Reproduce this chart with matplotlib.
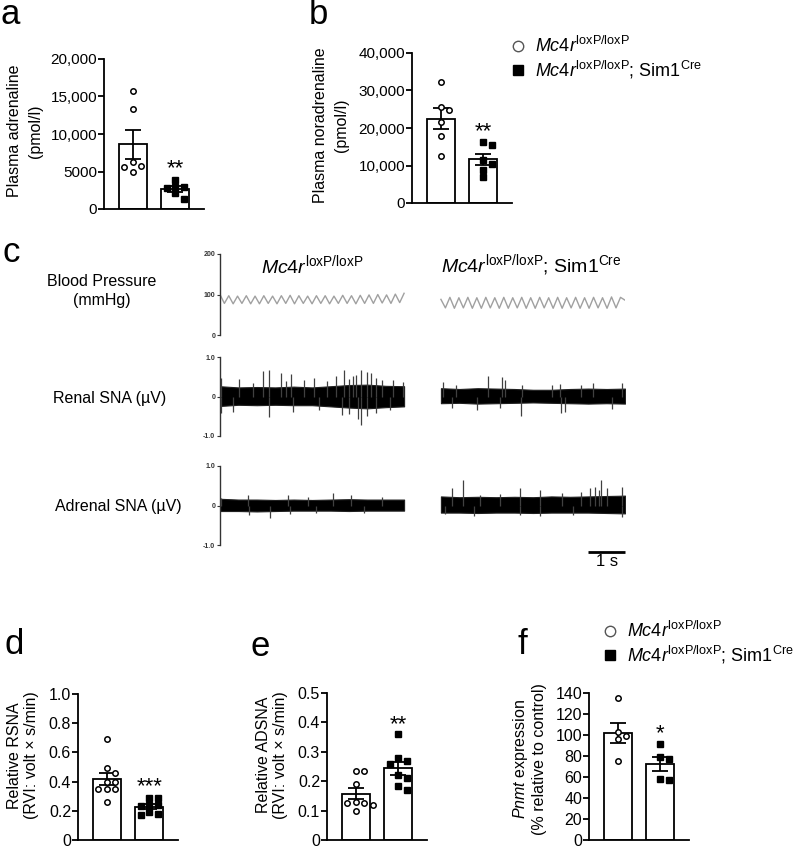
import numpy as np
import matplotlib
matplotlib.use('Agg')
import matplotlib.pyplot as plt

plt.rcParams['font.family'] = ['Liberation Sans', 'DejaVu Sans']
plt.rcParams['mathtext.fontset'] = 'custom'
plt.rcParams['mathtext.rm'] = 'Liberation Sans'
plt.rcParams['mathtext.it'] = 'Liberation Sans:italic'
plt.rcParams['mathtext.bf'] = 'Liberation Sans:bold'

# --- bar panels: individual animals (ctrl = Mc4r loxP/loxP, ko = + Sim1Cre)
adr_ctrl = [15700, 13300, 6300, 5800, 5600, 5000]
adr_ko = [3900, 3000, 2900, 2800, 2100, 1300]
nor_ctrl = [32200, 25500, 24800, 21600, 18000, 12600]
nor_ko = [16400, 15600, 11500, 10500, 8900, 6900]
rsna_ctrl = [0.69, 0.49, 0.46, 0.40, 0.40, 0.35, 0.35, 0.35, 0.26]
rsna_ko = [0.29, 0.29, 0.24, 0.24, 0.23, 0.19, 0.18, 0.17]
adsna_ctrl = [0.235, 0.235, 0.19, 0.13, 0.125, 0.12, 0.125, 0.10]
adsna_ko = [0.36, 0.28, 0.27, 0.26, 0.22, 0.21, 0.185, 0.17]
pnmt_ctrl = [135, 103, 99, 96, 75]
pnmt_ko = [91.5, 79, 77, 58.5, 57]

# --- panel c: blood pressure trace vertices (mmHg)
bp_ctrl = [100, 78, 97, 77, 96, 78, 97, 77, 96, 77, 97, 78, 96, 77, 97, 78, 98, 77,
           97, 78, 96, 77, 97, 78, 97, 77, 96, 78, 98, 78, 97, 77, 98, 78, 99, 78,
           100, 79, 99, 78, 101, 80, 103]
bp_ko = [88, 67, 93, 66, 92, 67, 93, 66, 92, 66, 93, 67, 92, 66, 93, 66, 92, 67, 93,
         66, 92, 66, 93, 67, 92, 66, 93, 66, 92, 67, 93, 66, 92, 66, 93, 67, 92, 66,
         94, 67, 93, 86]

# nerve activity band envelope (uV), every 0.5 s
rsna_ctrl_up = [0.26, 0.23, 0.24, 0.23, 0.25, 0.23, 0.26, 0.29, 0.30, 0.27, 0.26]
rsna_ctrl_lo = [-0.24, -0.21, -0.22, -0.21, -0.22, -0.22, -0.25, -0.28, -0.30, -0.27, -0.25]
rsna_ko_up = [0.21, 0.19, 0.21, 0.20, 0.19, 0.17, 0.17, 0.19, 0.20, 0.19, 0.20]
rsna_ko_lo = [-0.17, -0.16, -0.18, -0.17, -0.16, -0.15, -0.16, -0.17, -0.18, -0.17, -0.18]
asna_ctrl_up = [0.17, 0.15, 0.15, 0.14, 0.15, 0.14, 0.15, 0.16, 0.15, 0.15, 0.15]
asna_ctrl_lo = [-0.14, -0.14, -0.15, -0.14, -0.13, -0.13, -0.13, -0.14, -0.13, -0.13, -0.13]
asna_ko_up = [0.23, 0.21, 0.22, 0.21, 0.22, 0.21, 0.23, 0.22, 0.23, 0.24, 0.25]
asna_ko_lo = [-0.18, -0.18, -0.19, -0.18, -0.18, -0.19, -0.18, -0.18, -0.18, -0.19, -0.20]

# single spikes beyond the band: time (s) and amplitude (uV)
rsna_ctrl_spk_t = [0.02, 0.52, 0.9, 1.16, 1.34, 1.67, 1.8, 1.92, 2.28, 2.55, 2.9, 3.14,
                   3.36, 3.5, 3.62, 3.7, 3.84, 3.98, 4.11, 4.25, 4.4, 4.70, 4.97,
                   0.02, 0.35, 1.34, 1.99, 2.7, 3.30, 3.5, 3.75, 3.84, 4.0, 4.25, 4.61]
rsna_ctrl_spk_v = [0.47, 0.44, 0.35, 0.65, 0.67, 0.59, 0.40, 0.57, 0.43, 0.47, 0.38, 0.53,
                   0.67, 0.45, 0.51, 0.55, 0.67, 0.61, 0.59, 0.47, 0.42, 0.43, 0.37,
                   -0.43, -0.38, -0.52, -0.39, -0.35, -0.48, -0.45, -0.56, -0.72, -0.50, -0.43, -0.35]
rsna_ko_spk_t = [0.07, 0.4, 1.27, 1.65, 1.75, 2.2, 3.01, 3.24, 3.8, 4.14, 4.91,
                 0.3, 0.98, 1.6, 2.18, 3.26, 3.37, 4.64]
rsna_ko_spk_v = [0.37, 0.30, 0.53, 0.49, 0.41, 0.28, 0.30, 0.32, 0.30, 0.34, 0.34,
                 -0.28, -0.35, -0.30, -0.50, -0.43, -0.39, -0.31]
asna_ctrl_spk_t = [0.02, 0.77, 1.85, 2.4, 3.07, 3.57, 4.4, 0.80, 1.36, 1.90, 2.6, 3.9]
asna_ctrl_spk_v = [0.20, 0.26, 0.27, 0.22, 0.31, 0.27, 0.22, -0.25, -0.32, -0.22, -0.20, -0.20]
asna_ko_spk_t = [0.30, 0.60, 1.07, 1.6, 2.15, 2.69, 3.3, 3.8, 4.05, 4.19, 4.3, 4.34, 4.50, 4.91,
                 0.1, 0.89, 2.15, 2.68, 3.6, 4.91]
asna_ko_spk_v = [0.44, 0.64, 0.27, 0.30, 0.44, 0.40, 0.32, 0.35, 0.44, 0.48, 0.40, 0.64, 0.44, 0.46,
                 -0.22, -0.26, -0.24, -0.26, -0.24, -0.29]

ctrl_label = r'$\it{Mc4r}^{\mathrm{loxP/loxP}}$'
ko_label = r'$\it{Mc4r}^{\mathrm{loxP/loxP}}$; Sim1$^{\mathrm{Cre}}$'

W, H = 800, 851
fig = plt.figure(figsize=(W / 100, H / 100), dpi=100)


def px_axes(l, t, r, b):
    return fig.add_axes([l / W, 1 - b / H, (r - l) / W, (b - t) / H])


def swarm(vals, tol, step):
    # simple beeswarm: spread points that overlap in y
    order = np.argsort(vals)[::-1]
    offs = np.zeros(len(vals))
    placed = []
    for i in order:
        near = [offs[j] for j in placed if abs(vals[j] - vals[i]) < tol]
        k = 0
        cand = [0, 1, -1, 2, -2, 3, -3]
        while any(abs(cand[k] * step - o) < 1e-9 for o in near):
            k += 1
        offs[i] = cand[k] * step
        placed.append(i)
    return offs


def bar_panel(ax, ctrl, ko, ymax, yticks, yticklabels, ylabel, star, star_y, lab_x, lab_y, tfs, lsp):
    groups = [np.array(ctrl, float), np.array(ko, float)]
    means = [g.mean() for g in groups]
    sems = [g.std(ddof=1) / np.sqrt(len(g)) for g in groups]
    ax.bar([0, 1], means, width=0.654, color='white', edgecolor='black', linewidth=1.3, zorder=1)
    ax.errorbar([0, 1], means, yerr=sems, fmt='none', ecolor='black', elinewidth=1.3,
                capsize=6, capthick=1.3, zorder=3)
    tol = ymax * 0.045
    ax.plot(0 + swarm(groups[0], tol, 0.2), groups[0], 'o', mfc='white', mec='black',
            ms=3.9, mew=1.1, zorder=4, clip_on=False)
    ax.plot(1 + swarm(groups[1], tol, 0.2), groups[1], 's', color='black',
            ms=3.9, zorder=4, clip_on=False)
    ax.set_xlim(-0.666, 1.67)
    ax.set_ylim(0, ymax)
    ax.set_yticks(yticks)
    ax.set_yticklabels(yticklabels, fontsize=tfs)
    ax.set_xticks([])
    for s in ['top', 'right']:
        ax.spines[s].set_visible(False)
    for s in ['left', 'bottom']:
        ax.spines[s].set_linewidth(1.3)
    ax.tick_params(axis='y', direction='out', length=4, width=1.3, pad=1)
    ax.set_ylabel(ylabel, fontsize=11.5, linespacing=lsp)
    ax.yaxis.label.set_va('center')
    ax.yaxis.set_label_coords(lab_x, lab_y)
    ax.annotate(star, (1, star_y), xytext=(0, -4), textcoords='offset points',
                ha='center', va='center', fontsize=16)


ax_a = px_axes(104, 59, 204, 209)
bar_panel(ax_a, adr_ctrl, adr_ko, 20000, [0, 5000, 10000, 15000, 20000],
          ['0', '5000', '10,000', '15,000', '20,000'],
          'Plasma adrenaline\n(pmol/l)', '**', 6100, -0.79, 0.52, 11, 1.5)

ax_b = px_axes(412, 53, 512, 203)
bar_panel(ax_b, nor_ctrl, nor_ko, 40000, [0, 10000, 20000, 30000, 40000],
          ['0', '10,000', '20,000', '30,000', '40,000'],
          'Plasma noradrenaline\n(pmol/l)', '**', 20600, -0.81, 0.52, 11, 1.5)

ax_d = px_axes(78, 694, 178, 840)
bar_panel(ax_d, rsna_ctrl, rsna_ko, 1.0, [0, 0.2, 0.4, 0.6, 0.8, 1.0],
          ['0', '0.2', '0.4', '0.6', '0.8', '1.0'],
          'Relative RSNA\n(RVI: volt \u00d7 s/min)', '***', 0.405, -0.55, 0.58, 11.5, 1.2)

ax_e = px_axes(327, 693, 427, 840)
bar_panel(ax_e, adsna_ctrl, adsna_ko, 0.5, [0, 0.1, 0.2, 0.3, 0.4, 0.5],
          ['0', '0.1', '0.2', '0.3', '0.4', '0.5'],
          'Relative ADSNA\n(RVI: volt \u00d7 s/min)', '**', 0.41, -0.55, 0.58, 11.5, 1.2)

ax_f = px_axes(589, 693, 689, 840)
bar_panel(ax_f, pnmt_ctrl, pnmt_ko, 140, [0, 20, 40, 60, 80, 100, 120, 140],
          ['0', '20', '40', '60', '80', '100', '120', '140'],
          r'$\it{Pnmt}$ expression' + '\n(% relative to control)', '*', 107, -0.6, 0.55, 11.5, 1.2)

# --- panel c traces
ko_start = 6.0
trace_len = 5.0


def trace_axes(t, b, ylim, ticks, ticklabels):
    ax = px_axes(220, t, 625, b)
    ax.set_xlim(0, 11)
    ax.set_ylim(*ylim)
    ax.set_xticks([])
    ax.set_yticks(ticks)
    ax.set_yticklabels(ticklabels, fontsize=5, fontweight='bold')
    for s in ['top', 'right', 'bottom']:
        ax.spines[s].set_visible(False)
    ax.spines['left'].set_linewidth(1.0)
    ax.spines['left'].set_color('#333333')
    ax.tick_params(axis='y', length=2.5, width=0.8, pad=1, colors='#333333')
    return ax


ax_bp = trace_axes(254, 335, (0, 200), [0, 100, 200], ['0', '100', '200'])
ax_bp.plot(np.linspace(0, trace_len, len(bp_ctrl)), bp_ctrl, color='#a0a0a0', lw=1.0)
ax_bp.plot(ko_start + np.linspace(0, trace_len, len(bp_ko)), bp_ko, color='#a0a0a0', lw=1.0)
ax_bp.text(2.5, 172, ctrl_label, fontsize=14, ha='center', va='center')
ax_bp.text(8.45, 172, ko_label, fontsize=14, ha='center', va='center')


def sna(ax, start, up, lo, spk_t, spk_v):
    t = start + np.linspace(0, trace_len, len(up))
    ax.vlines(start + np.array(spk_t), 0, spk_v, color='#404040', lw=0.9)
    ax.fill_between(t, lo, up, color='black', lw=0.8, edgecolor='#202020')


ax_r = trace_axes(357, 436, (-1, 1), [-1, 0, 1], ['-1.0', '0', '1.0'])
sna(ax_r, 0, rsna_ctrl_up, rsna_ctrl_lo, rsna_ctrl_spk_t, rsna_ctrl_spk_v)
sna(ax_r, ko_start, rsna_ko_up, rsna_ko_lo, rsna_ko_spk_t, rsna_ko_spk_v)

ax_ad = trace_axes(466, 545, (-1, 1), [-1, 0, 1], ['-1.0', '0', '1.0'])
sna(ax_ad, 0, asna_ctrl_up, asna_ctrl_lo, asna_ctrl_spk_t, asna_ctrl_spk_v)
sna(ax_ad, ko_start, asna_ko_up, asna_ko_lo, asna_ko_spk_t, asna_ko_spk_v)

# 1 s scale bar
ax_ad.plot([10, 11], [-1.17, -1.17], color='black', lw=2, clip_on=False, solid_capstyle='butt')
ax_ad.text(10.5, -1.42, '1 s', fontsize=12, ha='center', va='center')

# --- overlay for free text and legends (pixel coordinates)
ov = fig.add_axes([0, 0, 1, 1], zorder=10)
ov.set_xlim(0, W)
ov.set_ylim(H, 0)
ov.axis('off')
ov.patch.set_alpha(0)

for ch, x, y in [('a', 1, 15), ('b', 309, 15), ('c', 2, 253), ('d', 4, 644), ('e', 250, 646), ('f', 518, 644)]:
    ov.text(x, y, ch, fontsize=25, ha='left', va='center')

ov.text(102, 291, 'Blood Pressure\n(mmHg)', fontsize=11.5, ha='center', va='center', linespacing=1.25)
ov.text(110, 398, 'Renal SNA (\u00b5V)', fontsize=11.5, ha='center', va='center')
ov.text(118, 506, 'Adrenal SNA (\u00b5V)', fontsize=11.5, ha='center', va='center')

for (cx, cy) in [(518, 46), (610, 631)]:
    ov.plot(cx, cy, 'o', mfc='white', mec='#555555', ms=7.5, mew=1.0)
    ov.plot(cx, cy + 24, 's', color='black', ms=7.5)
    ov.text(cx + 17, cy, ctrl_label, fontsize=13, ha='left', va='center')
    ov.text(cx + 17, cy + 24, ko_label, fontsize=13, ha='left', va='center')

fig.savefig('out.png', dpi=100)
